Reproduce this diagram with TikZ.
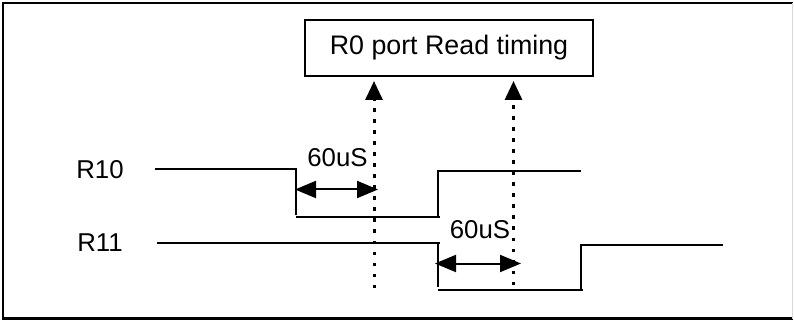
\documentclass[tikz,border=0pt]{standalone}
\usepackage{fontspec}
\setmainfont{Liberation Sans}
\usetikzlibrary{arrows.meta}
\begin{document}
\begin{tikzpicture}[x=1pt,y=-1pt,
  sig/.style={line width=2.2pt},
  lbl/.style={inner sep=0pt,font=\fontsize{25.8}{30}\selectfont},
  tbox/.style={draw,line width=2pt,minimum width=288pt,minimum height=56pt,inner sep=0pt,font=\fontsize{26.8}{30}\selectfont},
  readarrow/.style={line width=3pt,dash pattern=on 3.5pt off 7.5pt,-{Triangle[length=19pt,width=17pt]},shorten >=4pt},
  span/.style={line width=2pt,{Triangle[length=21pt,width=17pt]}-{Triangle[length=21pt,width=17pt]}}]
\useasboundingbox (0,0) rectangle (794,320);
% frame
\draw[line width=2.2pt] (793,3) -- (3,3) -- (3,318.5) -- (793,318.5);
\draw[line width=1pt,black!15] (792.5,3) -- (792.5,318.5);
% title
\node[tbox] (title) at (449,48) {R0 port Read timing};
% labels
\node[lbl] (r10) at (100,170) {R10};
\node[lbl] (r11) at (100,243) {R11};
\node[lbl] (t1) at (337.5,158) {60uS};
\node[lbl] (t2) at (480,230) {60uS};
% R10 waveform
\coordinate (a0) at (155,169);
\coordinate (a1) at (296,169);
\coordinate (a2) at (296,217);
\coordinate (a3) at (438,217);
\coordinate (a4) at (438,171);
\coordinate (a5) at (581,171);
\draw[sig] (a0) -- ([xshift=1pt]a1);
\draw[sig] (a1) -- ([yshift=2pt]a2);
\draw[sig] (a2) -- ([xshift=2pt]a3);
\draw[sig] ([yshift=1pt]a3) -- (a4);
\draw[sig] ([xshift=-1pt]a4) -- (a5);
% R11 waveform
\coordinate (b0) at (157,243);
\coordinate (b1) at (438,243);
\coordinate (b2) at (438,290);
\coordinate (b3) at (581,290);
\coordinate (b4) at (581,245);
\coordinate (b5) at (723,245);
\draw[sig] (b0) -- ([xshift=2pt]b1);
\draw[sig] ([yshift=-1pt]b1) -- ([yshift=3pt]b2);
\draw[sig] (b2) -- ([xshift=2pt]b3);
\draw[sig] ([yshift=1pt]b3) -- (b4);
\draw[sig] ([xshift=-1pt]b4) -- (b5);
% read points
\coordinate (d1) at (374,288);
\coordinate (d2) at (513.5,285);
\draw[readarrow] (d1) -- (d1 |- title.south);
\draw[readarrow] (d2) -- (d2 |- title.south);
% 60uS spans
\coordinate (s1a) at (295,189.5);
\coordinate (s1b) at (378,189.5);
\coordinate (s2a) at (435,263.5);
\coordinate (s2b) at (521,263.5);
\draw[span] (s1a) -- (s1b);
\draw[span] (s2a) -- (s2b);
\end{tikzpicture}
\end{document}
